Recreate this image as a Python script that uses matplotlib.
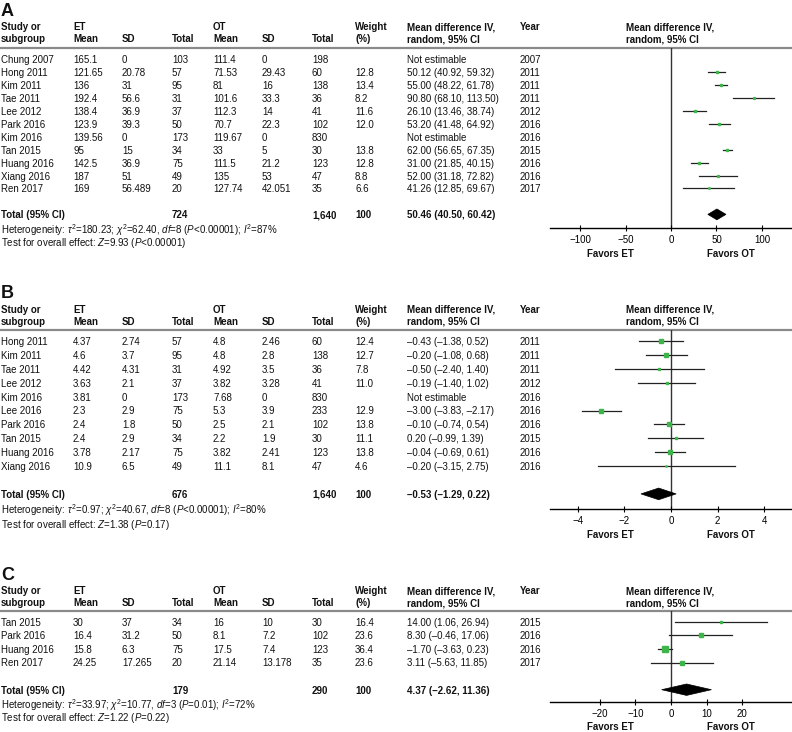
import matplotlib
matplotlib.use("Agg")
import matplotlib.pyplot as plt
from matplotlib.patches import Polygon

# ── DATA ───────────────────────────────────────────────────────────────────────
# Panel A
studies_a = ["Chung 2007", "Hong 2011", "Kim 2011", "Tae 2011", "Lee 2012", "Park 2016",
             "Kim 2016", "Tan 2015", "Huang 2016", "Xiang 2016", "Ren 2017"]
et_mean_a = [165.1, 121.65, 136, 192.4, 138.4, 123.9, 139.56, 95, 142.5, 187, 169]
et_sd_a   = [0, 20.78, 31, 56.6, 36.9, 39.3, 0, 15, 36.9, 51, 56.489]
et_n_a    = [103, 57, 95, 31, 37, 50, 173, 34, 75, 49, 20]
ot_mean_a = [111.4, 71.53, 81, 101.6, 112.3, 70.7, 119.67, 33, 111.5, 135, 127.74]
ot_sd_a   = [0, 29.43, 16, 33.3, 14, 22.3, 0, 5, 21.2, 53, 42.051]
ot_n_a    = [198, 60, 138, 36, 41, 102, 830, 30, 123, 47, 35]
weight_a  = [None, 12.8, 13.4, 8.2, 11.6, 12.0, None, 13.8, 12.8, 8.8, 6.6]
md_a      = [None, 50.12, 55.00, 90.80, 26.10, 53.20, None, 62.00, 31.00, 52.00, 41.26]
lo_a      = [None, 40.92, 48.22, 68.10, 13.46, 41.48, None, 56.65, 21.85, 31.18, 12.85]
hi_a      = [None, 59.32, 61.78, 113.50, 38.74, 64.92, None, 67.35, 40.15, 72.82, 69.67]
year_a    = [2007, 2011, 2011, 2011, 2012, 2016, 2016, 2015, 2016, 2016, 2017]
total_a   = (724, 1640, 100, 50.46, 40.50, 60.42)
het_a     = r"Heterogeneity: $\tau^2$=180.23; $\chi^2$=62.40, $df$=8 ($P$<0.00001); $I^2$=87%"
test_a    = r"Test for overall effect: $Z$=9.93 ($P$<0.00001)"
ticks_a   = [-100, -50, 0, 50, 100]

# Panel B
studies_b = ["Hong 2011", "Kim 2011", "Tae 2011", "Lee 2012", "Kim 2016", "Lee 2016",
             "Park 2016", "Tan 2015", "Huang 2016", "Xiang 2016"]
et_mean_b = [4.37, 4.6, 4.42, 3.63, 3.81, 2.3, 2.4, 2.4, 3.78, 10.9]
et_sd_b   = [2.74, 3.7, 4.31, 2.1, 0, 2.9, 1.8, 2.9, 2.17, 6.5]
et_n_b    = [57, 95, 31, 37, 173, 75, 50, 34, 75, 49]
ot_mean_b = [4.8, 4.8, 4.92, 3.82, 7.68, 5.3, 2.5, 2.2, 3.82, 11.1]
ot_sd_b   = [2.46, 2.8, 3.5, 3.28, 0, 3.9, 2.1, 1.9, 2.41, 8.1]
ot_n_b    = [60, 138, 36, 41, 830, 233, 102, 30, 123, 47]
weight_b  = [12.4, 12.7, 7.8, 11.0, None, 12.9, 13.8, 11.1, 13.8, 4.6]
md_b      = [-0.43, -0.20, -0.50, -0.19, None, -3.00, -0.10, 0.20, -0.04, -0.20]
lo_b      = [-1.38, -1.08, -2.40, -1.40, None, -3.83, -0.74, -0.99, -0.69, -3.15]
hi_b      = [0.52, 0.68, 1.40, 1.02, None, -2.17, 0.54, 1.39, 0.61, 2.75]
year_b    = [2011, 2011, 2011, 2012, 2016, 2016, 2016, 2015, 2016, 2016]
total_b   = (676, 1640, 100, -0.53, -1.29, 0.22)
het_b     = r"Heterogeneity: $\tau^2$=0.97; $\chi^2$=40.67, $df$=8 ($P$<0.00001); $I^2$=80%"
test_b    = r"Test for overall effect: $Z$=1.38 ($P$=0.17)"
ticks_b   = [-4, -2, 0, 2, 4]

# Panel C
studies_c = ["Tan 2015", "Park 2016", "Huang 2016", "Ren 2017"]
et_mean_c = [30, 16.4, 15.8, 24.25]
et_sd_c   = [37, 31.2, 6.3, 17.265]
et_n_c    = [34, 50, 75, 20]
ot_mean_c = [16, 8.1, 17.5, 21.14]
ot_sd_c   = [10, 7.2, 7.4, 13.178]
ot_n_c    = [30, 102, 123, 35]
weight_c  = [16.4, 23.6, 36.4, 23.6]
md_c      = [14.00, 8.30, -1.70, 3.11]
lo_c      = [1.06, -0.46, -3.63, -5.63]
hi_c      = [26.94, 17.06, 0.23, 11.85]
year_c    = [2015, 2016, 2016, 2017]
total_c   = (179, 290, 100, 4.37, -2.62, 11.36)
het_c     = r"Heterogeneity: $\tau^2$=33.97; $\chi^2$=10.77, $df$=3 ($P$=0.01); $I^2$=72%"
test_c    = r"Test for overall effect: $Z$=1.22 ($P$=0.22)"
ticks_c   = [-20, -10, 0, 10, 20]

# ── STYLE ──────────────────────────────────────────────────────────────────────
W, H   = 792, 732
GREEN  = "#3db54a"
FS     = 7
plt.rcParams.update({
    "font.family": ["Liberation Sans", "DejaVu Sans"],
    "mathtext.fontset": "custom",
    "mathtext.rm": "Liberation Sans",
    "mathtext.it": "Liberation Sans:italic",
    "mathtext.bf": "Liberation Sans:bold",
})

# column x positions (px)
COLS = dict(study=1, etm=73, etsd=122, etn=172, otm=213, otsd=262, otn=312,
            wt=355, md=407, year=520, plot=626)
PLOT_L = 550
FAV_ET, FAV_OT = 610, 731

fig = plt.figure(figsize=(W / 100, H / 100), dpi=100)
bg = fig.add_axes([0, 0, 1, 1])
bg.set_xlim(0, W); bg.set_ylim(H, 0); bg.axis("off")


def txt(x, y, s, bold=False, **kw):
    bg.text(x, y, s, fontsize=kw.pop("fontsize", FS), fontweight="bold" if bold else "normal",
            va="center_baseline", ha=kw.pop("ha", "left"), color="#111111", **kw)


def fmt_ci(m, lo, hi):
    return f"{m:.2f} ({lo:.2f}, {hi:.2f})".replace("-", "\u2013")


def draw_panel(label, lay, studies, etm, etsd, etn, otm, otsd, otn, wt, md, lo, hi, yr,
               total, het, test, ticks):
    hy = lay["head_y"]
    txt(1, lay["label_y"], label, bold=True, fontsize=13)
    # header
    txt(COLS["study"], hy, "Study or", True); txt(COLS["study"], hy + 12, "subgroup", True)
    txt(COLS["etm"], hy, "ET", True); txt(COLS["etm"], hy + 12, "Mean", True)
    txt(COLS["etsd"], hy + 12, "SD", True); txt(COLS["etn"], hy + 12, "Total", True)
    txt(COLS["otm"], hy, "OT", True); txt(COLS["otm"], hy + 12, "Mean", True)
    txt(COLS["otsd"], hy + 12, "SD", True); txt(COLS["otn"], hy + 12, "Total", True)
    txt(COLS["wt"], hy, "Weight", True); txt(COLS["wt"], hy + 12, "(%)", True)
    txt(COLS["md"], hy, "Mean difference IV,", True); txt(COLS["md"], hy + 12, "random, 95% CI", True)
    txt(COLS["year"], hy, "Year", True)
    txt(COLS["plot"], hy, "Mean difference IV,", True); txt(COLS["plot"], hy + 12, "random, 95% CI", True)
    bg.plot([0, W], [lay["rule_y"]] * 2, color="#8a8a8a", lw=1.6, solid_capstyle="butt")

    row_y = lambda i: lay["row0"] + lay["pitch"] * i
    for i, s in enumerate(studies):
        y = row_y(i)
        txt(COLS["study"], y, s)
        txt(COLS["etm"], y, str(etm[i])); txt(COLS["etsd"], y, str(etsd[i])); txt(COLS["etn"], y, str(etn[i]))
        txt(COLS["otm"], y, str(otm[i])); txt(COLS["otsd"], y, str(otsd[i])); txt(COLS["otn"], y, str(otn[i]))
        if wt[i] is not None:
            txt(COLS["wt"], y, str(wt[i]))
        txt(COLS["md"], y, "Not estimable" if md[i] is None else fmt_ci(md[i], lo[i], hi[i]))
        txt(COLS["year"], y, str(yr[i]))

    ty = row_y(lay["total_idx"])
    txt(COLS["study"], ty, "Total (95% CI)", True)
    txt(COLS["etn"], ty, f"{total[0]:,}", True)
    txt(COLS["otn"], ty, f"{total[1]:,}", True)
    txt(COLS["wt"], ty, str(total[2]), True)
    txt(COLS["md"], ty, fmt_ci(*total[3:]), True)
    txt(COLS["study"], ty + lay["het_dy"][0], het)
    txt(COLS["study"], ty + lay["het_dy"][1], test)

    # forest axes, aligned to the same pixel rows
    top, bot = lay["rule_y"], lay["axis_y"]
    ax = fig.add_axes([PLOT_L / W, 1 - bot / H, (W - PLOT_L) / W, (bot - top) / H])
    ax.patch.set_alpha(0)
    idx = lambda p: (p - lay["row0"]) / lay["pitch"]
    ax.set_ylim(idx(bot), idx(top))
    ax.set_xlim(*lay["xlim"])
    for sp in ("top", "left", "right"):
        ax.spines[sp].set_visible(False)
    ax.spines["bottom"].set_linewidth(1.0)
    ax.set_yticks([])
    ax.set_xticks(ticks)
    ax.tick_params(axis="x", direction="inout", length=5, width=0.8, labelsize=FS, pad=2.5)
    ax.axvline(0, color="#333333", lw=1.0, zorder=1)

    for i in range(len(studies)):
        if md[i] is None:
            continue
        ax.plot([lo[i], hi[i]], [i, i], color="#222222", lw=0.9, zorder=2)
        ax.plot(md[i], i, marker="s", ms=lay["ms"] * wt[i], color=GREEN, mec=GREEN, zorder=3)

    m, l, h = total[3:]
    k, d = lay["total_idx"], 0.42
    ax.add_patch(Polygon([(l, k), (m, k - d), (h, k), (m, k + d)], closed=True,
                         facecolor="black", edgecolor="black", lw=0.5, zorder=3))

    txt(FAV_ET, lay["fav_y"], "Favors ET", True, ha="center")
    txt(FAV_OT, lay["fav_y"], "Favors OT", True, ha="center")


LAY_A = dict(label_y=10, head_y=26, rule_y=47.5, row0=59, pitch=12.95, total_idx=12,
             het_dy=(13.3, 26.5), axis_y=227.7, fav_y=253, xlim=(-133, 133), ms=0.15)
LAY_B = dict(label_y=292, head_y=309, rule_y=330, row0=341, pitch=13.9, total_idx=11,
             het_dy=(14.7, 29), axis_y=509, fav_y=534, xlim=(-5.2, 5.2), ms=0.18)
LAY_C = dict(label_y=574, head_y=590, rule_y=611, row0=621.7, pitch=13.6, total_idx=5,
             het_dy=(13.3, 26.7), axis_y=702.3, fav_y=725.5, xlim=(-34, 34), ms=0.12)

draw_panel("A", LAY_A, studies_a, et_mean_a, et_sd_a, et_n_a, ot_mean_a, ot_sd_a, ot_n_a,
           weight_a, md_a, lo_a, hi_a, year_a, total_a, het_a, test_a, ticks_a)
draw_panel("B", LAY_B, studies_b, et_mean_b, et_sd_b, et_n_b, ot_mean_b, ot_sd_b, ot_n_b,
           weight_b, md_b, lo_b, hi_b, year_b, total_b, het_b, test_b, ticks_b)
draw_panel("C", LAY_C, studies_c, et_mean_c, et_sd_c, et_n_c, ot_mean_c, ot_sd_c, ot_n_c,
           weight_c, md_c, lo_c, hi_c, year_c, total_c, het_c, test_c, ticks_c)

fig.savefig("out.png", dpi=100)
